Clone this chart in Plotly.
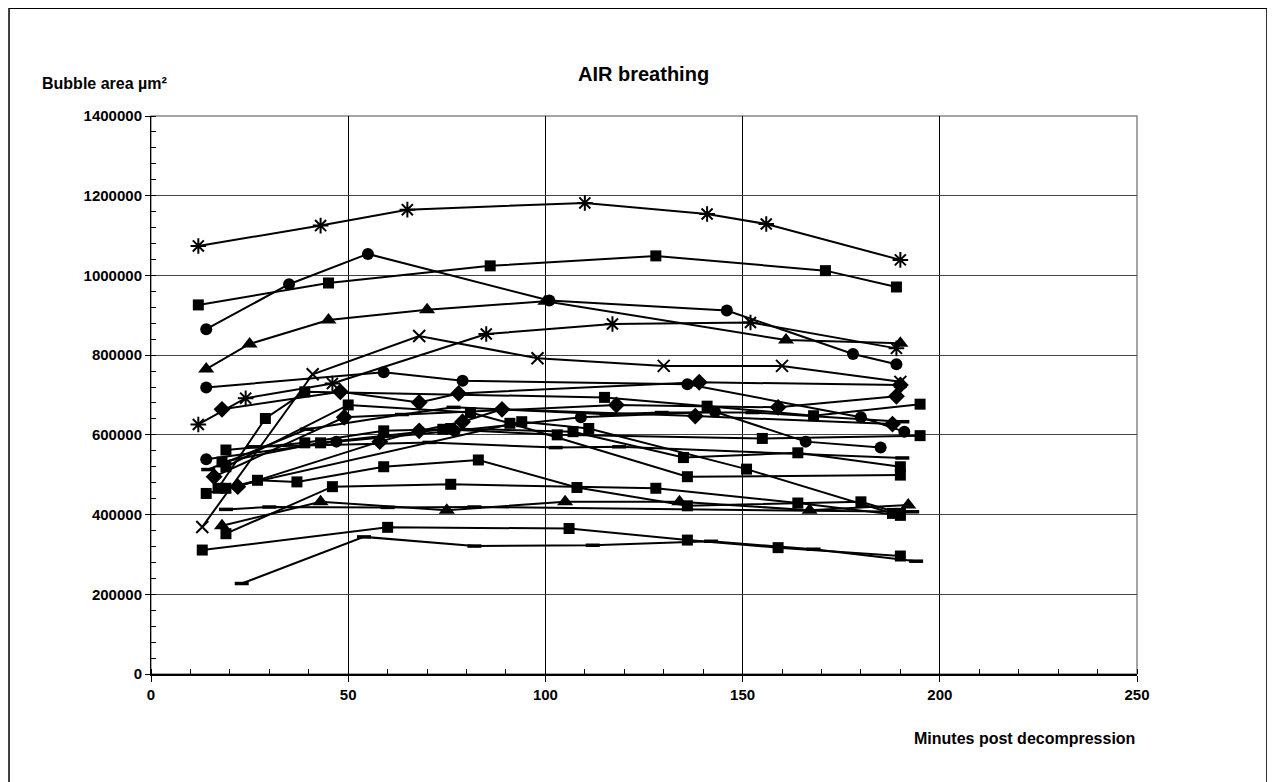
import plotly.graph_objects as go

# ---------------- data (minutes, bubble area in µm²) ----------------
t_ast1 = [12, 43, 65, 110, 141, 156, 190]
v_ast1 = [1074000, 1125000, 1165000, 1182000, 1154000, 1129000, 1039000]
t_sq1 = [12, 45, 86, 128, 171, 189]
v_sq1 = [926000, 981000, 1024000, 1049000, 1012000, 971000]
t_circ1 = [14, 35, 55, 101, 146, 178, 189]
v_circ1 = [865000, 978000, 1054000, 937000, 912000, 803000, 777000]
t_tri1 = [14, 25, 45, 70, 100, 161, 190]
v_tri1 = [765000, 828000, 888000, 914000, 935000, 838000, 830000]
t_ast2 = [12, 24, 46, 85, 117, 152, 189]
v_ast2 = [626000, 692000, 729000, 853000, 878000, 882000, 817000]
t_x1 = [13, 41, 68, 98, 130, 160, 190]
v_x1 = [369000, 752000, 848000, 792000, 773000, 773000, 733000]
t_dia1 = [18, 48, 68, 78, 139, 190]
v_dia1 = [664000, 708000, 681000, 704000, 732000, 725000]
t_circ2 = [14, 59, 79, 136, 180, 191]
v_circ2 = [719000, 757000, 736000, 727000, 644000, 608000]
t_circ3 = [14, 47, 77, 109, 143, 166, 185]
v_circ3 = [539000, 583000, 610000, 644000, 658000, 583000, 568000]
t_tri2 = [18, 43, 75, 105, 134, 167, 192]
v_tri2 = [372000, 432000, 411000, 432000, 432000, 411000, 424000]
t_dash1 = [23, 54, 82, 112, 142, 168, 194]
v_dash1 = [227000, 344000, 321000, 323000, 333000, 313000, 283000]
t_sq2 = [13, 60, 106, 136, 159, 190]
v_sq2 = [311000, 368000, 365000, 336000, 317000, 296000]
t_dash2 = [19, 30, 60, 82, 193]
v_dash2 = [413000, 419000, 418000, 419000, 407000]
t_sq3 = [19, 46, 76, 128, 164, 190]
v_sq3 = [352000, 470000, 476000, 466000, 429000, 398000]
t_sq4 = [14, 27, 37, 59, 83, 108, 136, 180, 190]
v_sq4 = [453000, 486000, 482000, 520000, 537000, 468000, 422000, 432000, 403000]
t_sq5 = [19, 39, 59, 74, 103, 155, 195]
v_sq5 = [562000, 580000, 610000, 614000, 600000, 591000, 598000]
t_sq6 = [18, 43, 76, 107, 135, 164, 190]
v_sq6 = [532000, 580000, 616000, 608000, 543000, 555000, 520000]
t_sq7 = [19, 50, 81, 91, 136, 190]
v_sq7 = [520000, 675000, 656000, 629000, 495000, 499000]
t_sq8 = [17, 29, 39, 115, 141, 168, 195]
v_sq8 = [466000, 641000, 708000, 694000, 672000, 648000, 677000]
t_sq9 = [19, 94, 111, 151, 188]
v_sq9 = [466000, 633000, 616000, 514000, 403000]
t_dia2 = [16, 49, 118, 159, 189]
v_dia2 = [495000, 644000, 675000, 669000, 697000]
t_dia3 = [22, 58, 68, 79, 89, 138, 188]
v_dia3 = [470000, 583000, 610000, 633000, 664000, 647000, 627000]
t_dash3 = [14.5, 39.5, 63.6, 76.7, 115.5, 129.5, 152.5, 190.5]
v_dash3 = [513000, 614000, 651000, 669000, 652000, 656000, 656000, 633000]
t_dash4 = [26, 70.6, 102.6, 118.7, 190.5]
v_dash4 = [570000, 581000, 568000, 570000, 542000]

x_ticks = [0, 50, 100, 150, 200, 250]
y_ticks = [0, 200000, 400000, 600000, 800000, 1000000, 1200000, 1400000]

series = [
    (t_ast1, v_ast1, "asterisk"), (t_sq1, v_sq1, "square"), (t_circ1, v_circ1, "circle"),
    (t_tri1, v_tri1, "triangle"), (t_ast2, v_ast2, "asterisk"), (t_x1, v_x1, "x"),
    (t_dia1, v_dia1, "diamond"), (t_circ2, v_circ2, "circle"), (t_circ3, v_circ3, "circle"),
    (t_tri2, v_tri2, "triangle"), (t_dash1, v_dash1, "dash"), (t_sq2, v_sq2, "square"),
    (t_dash2, v_dash2, "dash"), (t_sq3, v_sq3, "square"), (t_sq4, v_sq4, "square"),
    (t_sq5, v_sq5, "square"), (t_sq6, v_sq6, "square"), (t_sq7, v_sq7, "square"),
    (t_sq8, v_sq8, "square"), (t_sq9, v_sq9, "square"), (t_dia2, v_dia2, "diamond"),
    (t_dia3, v_dia3, "diamond"), (t_dash3, v_dash3, "dash"), (t_dash4, v_dash4, "dash"),
]

marker_styles = {
    "square": dict(symbol="square", size=11, color="black"),
    "circle": dict(symbol="circle", size=12, color="black"),
    "diamond": dict(symbol="diamond", size=13, color="black"),
    "triangle": dict(symbol="triangle-up", size=14, color="black"),
    "x": dict(symbol="x-thin-open", size=12, color="black", line=dict(width=2, color="black")),
    "asterisk": dict(symbol="asterisk-open", size=13, color="black", line=dict(width=2, color="black")),
    "dash": dict(symbol="line-ew-open", size=10, color="black", line=dict(width=3.5, color="black")),
}

fig = go.Figure()
for t, v, m in series:
    fig.add_trace(go.Scatter(x=t, y=v, mode="lines+markers",
                             line=dict(color="black", width=2),
                             marker=marker_styles[m], showlegend=False))

FONT = "Liberation Sans, Arial, sans-serif"
fig.update_layout(
    width=1275, height=782,
    margin=dict(l=143, r=146, t=108, b=116),
    paper_bgcolor="white", plot_bgcolor="white",
    font=dict(family=FONT, color="black", size=15),
    xaxis=dict(range=[0, 250], tickvals=x_ticks, ticktext=[str(v) for v in x_ticks],
               showgrid=True, gridcolor="black", gridwidth=1,
               showline=True, linecolor="black", linewidth=2, mirror=False,
               ticks="outside", ticklen=6, tickcolor="black",
               minor=dict(dtick=10, ticks="inside", ticklen=5, tickcolor="black", showgrid=False),
               tickfont=dict(family=FONT, size=15, color="black", weight="bold"),
               zeroline=False),
    yaxis=dict(range=[0, 1400000], tickvals=y_ticks, ticktext=[str(v) for v in y_ticks],
               showgrid=True, gridcolor="#444444", gridwidth=1,
               showline=True, linecolor="black", linewidth=1, mirror=False,
               ticks="outside", ticklen=5, tickcolor="black",
               minor=dict(dtick=40000, ticks="inside", ticklen=5, tickcolor="black", showgrid=False),
               tickfont=dict(family=FONT, size=15, color="black", weight="bold"),
               zeroline=False),
    shapes=[
        dict(type="rect", xref="paper", yref="paper", x0=0, x1=1, y0=0, y1=1,
             line=dict(color="#888888", width=1.5), layer="below"),
        dict(type="rect", xref="paper", yref="paper", x0=-0.144, x1=1.1318, y0=-0.25, y1=1.193,
             line=dict(color="black", width=1.5)),
    ],
    annotations=[
        dict(text="<b>AIR breathing</b>", xref="paper", yref="paper", x=0.499, y=1.0745,
             showarrow=False, font=dict(family=FONT, size=20), xanchor="center", yanchor="middle"),
        dict(text="<b>Bubble area µm²</b>", xref="paper", yref="paper", x=-0.1126, y=1.058,
             showarrow=False, font=dict(family=FONT, size=16), xanchor="left", yanchor="middle"),
        dict(text="<b>Minutes post decompression</b>", xref="paper", yref="paper", x=1.0, y=-0.1156,
             showarrow=False, font=dict(family=FONT, size=16), xanchor="right", yanchor="middle"),
    ],
)

fig.write_html("out.html")
